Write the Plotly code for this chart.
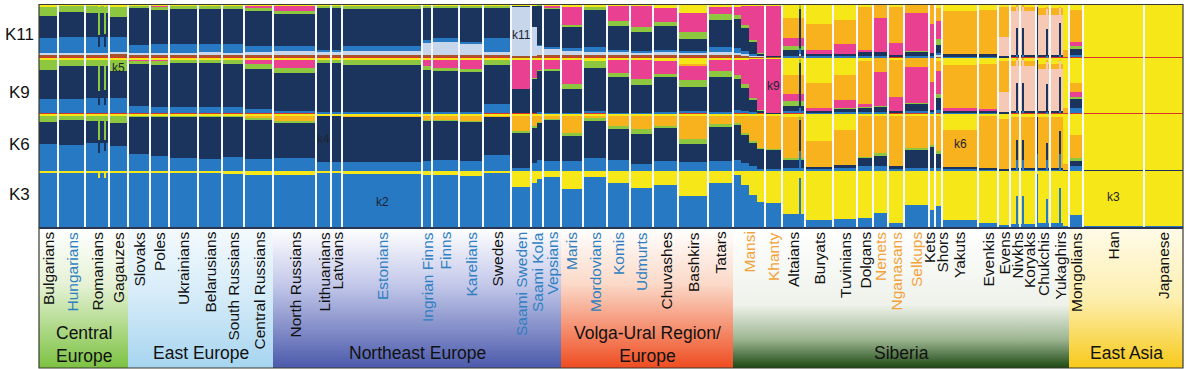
import plotly.graph_objects as go

W, H = 1190, 369
X0, X1 = 39, 1183          # left / right pixel edge of the bar panel
ROW_EDGES = [5, 58, 114, 171, 227]   # pixel rows: K11, K9, K6, K3

# ---------------- data ----------------
block_pop = ["Bulgarians", "Hungarians", "Romanians", "Romanians", "Romanians", "Romanians", "Romanians",
             "Gagauzes", "Slovaks", "Poles", "Ukrainians", "Belarusians", "South Russians", "Central Russians",
             "North Russians", "Lithuanians", "Latvians", "Estonians", "Ingrian Finns", "Finns", "Karelians",
             "Swedes", "Saami Sweden", "Saami Kola", "Saami Kola", "Vepsians", "Maris", "Mordovians", "Komis",
             "Udmurts", "Chuvashes", "Bashkirs", "Tatars", "Mansi", "Mansi", "Mansi", "Mansi", "Khanty",
             "Altaians", "Altaians", "Altaians", "Buryats", "Tuvinians", "Dolgans", "Nenets", "Nganasans",
             "Selkups", "Kets", "Shors", "Yakuts", "Evenkis", "Evens",
             "Nivkhs", "Nivkhs", "Nivkhs",
             "Koryaks", "Koryaks", "Koryaks",
             "Chukchis", "Chukchis", "Chukchis", "Chukchis",
             "Yukaghirs", "Yukaghirs", "Yukaghirs", "Yukaghirs",
             "Mongolians", "Han", "Japanese"]
block_n = [19, 27, 13, 2, 4, 2, 3,
           19, 22, 19, 29, 24, 22, 29,
           43, 15, 11, 80, 10, 27, 24,
           28, 20, 6, 6, 18, 22, 24, 23,
           23, 25, 30, 25, 8, 8, 8, 8, 17,
           17, 2, 4, 28, 24, 16, 15, 16,
           25, 6, 7, 36, 20, 12,
           6, 2, 2,
           2, 2, 12,
           2, 8, 2, 2,
           9, 2, 2, 6,
           14, 61, 39]

# K3 components (bottom -> top)
K3_comps = ["blue", "yellow"]
K3_values = [
    [.97, .03], [.97, .03], [.97, .03], [.87, .13], [.97, .03], [.88, .12], [.97, .03],
    [.97, .03], [.97, .03], [.97, .03], [.96, .04], [.96, .04], [.95, .05], [.93, .07],
    [.93, .07], [.97, .03], [.97, .03], [.95, .05], [.92, .08], [.92, .08], [.91, .09],
    [.98, .02], [.72, .28], [.78, .22], [.86, .14], [.90, .10], [.67, .33], [.90, .10], [.78, .22],
    [.70, .30], [.75, .25], [.55, .45], [.78, .22], [.92, .08], [.75, .25], [.58, .42], [.45, .55], [.42, .58],
    [.24, .76], [.88, .12], [.24, .76], [.12, .88], [.15, .85], [.16, .84], [.25, .75], [.08, .92],
    [.40, .60], [.30, .70], [.38, .62], [.13, .87], [.08, .92], [.04, .96],
    [.05, .95], [.55, .45], [.05, .95],
    [.05, .95], [.55, .45], [.05, .95],
    [.95, .05], [.07, .93], [.50, .50], [.07, .93],
    [.07, .93], [.70, .30], [.07, .93], [.02, .98],
    [.21, .79], [.01, .99], [.01, .99]]

# K6 components (bottom -> top)
K6_comps = ["blue", "navy", "green", "orange", "yellow"]
K6_values = [
    [.48, .38, .11, 0, .03], [.46, .44, .07, 0, .03], [.50, .38, .09, 0, .03], [.32, .22, .42, 0, .04],
    [.50, .38, .09, 0, .03], [.35, .20, .41, 0, .04], [.50, .38, .09, 0, .03],
    [.44, .40, .13, 0, .03], [.30, .65, .02, 0, .03], [.26, .70, .01, 0, .03], [.22, .73, .02, 0, .03],
    [.21, .75, .01, 0, .03], [.24, .71, .02, 0, .03], [.21, .70, .02, .04, .03],
    [.22, .63, .02, .10, .03], [.15, .82, 0, 0, .03], [.15, .82, 0, 0, .03], [.16, .79, 0, .02, .03],
    [.17, .72, .01, .07, .03], [.19, .70, .01, .07, .03], [.17, .70, .01, .09, .03],
    [.28, .67, .01, .01, .03], [.05, .63, .02, .27, .03], [.14, .63, .02, .18, .03], [.20, .65, .01, .11, .03],
    [.18, .72, .01, .06, .03], [.17, .45, .05, .30, .03], [.23, .64, .06, .04, .03], [.19, .54, .06, .18, .03],
    [.13, .52, .08, .24, .03], [.18, .58, .03, .18, .03], [.15, .33, .08, .40, .04], [.18, .60, .04, .15, .03],
    [.20, .60, .04, .13, .03], [.14, .50, .03, .30, .03], [.08, .42, .02, .45, .03], [.04, .35, .01, .57, .03],
    [.03, .35, .01, .58, .03],
    [.05, .14, .04, .72, .05], [.35, .55, .05, .03, .02], [.05, .14, .04, .72, .05], [.03, .04, 0, .45, .48],
    [.05, .05, 0, .62, .28], [.08, .15, .01, .74, .02], [.08, .20, .03, .67, .02], [.03, .05, 0, .88, .04],
    [.06, .32, .03, .57, .02], [.05, .38, .02, .53, .02], [.05, .25, .05, .63, .02], [.03, .04, 0, .65, .28],
    [.02, .04, 0, .90, .04], [.01, .03, 0, .88, .08],
    [.02, .03, 0, .90, .05], [.20, .35, 0, .40, .05], [.02, .03, 0, .90, .05],
    [.02, .03, 0, .90, .05], [.20, .35, 0, .40, .05], [.02, .03, 0, .90, .05],
    [.30, .65, 0, .05, 0], [.02, .04, 0, .89, .05], [.20, .30, 0, .45, .05], [.02, .04, 0, .89, .05],
    [.02, .04, 0, .89, .05], [.30, .40, 0, .25, .05], [.02, .04, 0, .89, .05], [.01, .01, 0, .10, .88],
    [.09, .09, .05, .40, .37], [0, .01, 0, 0, .99], [0, .01, 0, 0, .99]]

# K9 components (bottom -> top)
K9_comps = ["red", "blue", "navy", "green", "pink", "peach", "orange", "yellow"]
K9_values = [
    [.01, .26, .50, .18, 0, 0, 0, .03], [.01, .25, .59, .12, 0, 0, 0, .03], [.01, .27, .57, .12, 0, 0, 0, .03],
    [.01, .15, .25, .56, 0, 0, 0, .03], [.01, .27, .57, .12, 0, 0, 0, .03], [.01, .15, .27, .54, 0, 0, 0, .03],
    [.01, .27, .57, .12, 0, 0, 0, .03],
    [.01, .28, .48, .20, 0, 0, 0, .03], [.01, .13, .76, .05, .02, 0, 0, .03], [.01, .12, .75, .08, .01, 0, 0, .03],
    [.01, .12, .78, .06, 0, 0, 0, .03], [.01, .11, .79, .06, 0, 0, 0, .03], [.01, .12, .76, .08, 0, 0, 0, .03],
    [.01, .08, .72, .08, .08, 0, 0, .03],
    [.01, .05, .68, .08, .15, 0, 0, .03], [.01, .02, .88, .06, 0, 0, 0, .03], [.01, .02, .88, .06, 0, 0, 0, .03],
    [.01, .02, .84, .10, 0, 0, 0, .03], [.01, .02, .76, .06, .12, 0, 0, .03], [.01, .02, .74, .06, .14, 0, 0, .03],
    [.01, .02, .72, .06, .16, 0, 0, .03],
    [.01, .16, .70, .10, 0, 0, 0, .03], [.01, 0, .44, 0, .52, 0, 0, .03], [.01, 0, .62, .02, .32, 0, 0, .03],
    [.01, .02, .74, .02, .18, 0, 0, .03], [.01, .01, .74, .04, .17, 0, 0, .03], [.01, .01, .42, .10, .43, 0, 0, .03],
    [.01, .04, .78, .12, 0, 0, 0, .05], [.01, .01, .64, .08, .23, 0, 0, .03],
    [.01, .01, .50, .10, .35, 0, 0, .03], [.01, .02, .63, .06, .22, 0, 0, .06], [.01, .04, .43, .12, .27, 0, .03, .10],
    [.01, .03, .62, .10, .20, 0, 0, .04],
    [.01, .06, .55, .08, .27, 0, 0, .03], [.01, .04, .42, .06, .45, 0, 0, .02], [.01, .02, .22, .04, .70, 0, 0, .01],
    [.01, 0, .05, .02, .91, 0, 0, .01], [.01, 0, .01, 0, .97, 0, 0, .01],
    [.01, .04, .09, .09, .12, 0, .35, .30], [.01, .10, .80, .06, 0, 0, .02, .01], [.01, .04, .09, .09, .12, 0, .35, .30],
    [.01, .02, .03, 0, .05, 0, .44, .45], [.01, .02, .06, .01, .15, 0, .45, .30], [.01, .02, .08, .01, .05, 0, .78, .05],
    [.01, .03, .10, .01, .60, 0, .25, 0], [.01, 0, .05, 0, .25, 0, .67, .02],
    [.01, .05, .12, .02, .64, 0, .16, 0], [.01, .02, .04, 0, .50, 0, .43, 0], [.01, .07, .20, .08, .40, 0, .19, .05],
    [.01, .01, .05, 0, .03, 0, .78, .12], [.01, .01, .05, 0, .02, 0, .81, .10], [.01, 0, .03, 0, 0, .35, .56, .05],
    [.01, 0, .04, 0, 0, .80, .10, .05], [.01, .05, .50, 0, 0, .40, .04, 0], [.01, 0, .04, 0, 0, .80, .10, .05],
    [.01, 0, .04, 0, 0, .80, .10, .05], [.01, .05, .50, 0, 0, .40, .04, 0], [.01, 0, .04, 0, 0, .80, .10, .05],
    [.01, .05, .90, 0, 0, .04, 0, 0], [.01, 0, .04, 0, 0, .75, .10, .10], [.01, .03, .50, 0, 0, .40, .03, .03],
    [.01, 0, .04, 0, 0, .75, .10, .10],
    [.01, 0, .04, 0, 0, .75, .10, .10], [.01, .05, .60, 0, 0, .30, .02, .02], [.01, 0, .04, 0, 0, .75, .10, .10],
    [.01, 0, 0, 0, 0, 0, .09, .90],
    [.01, .10, .15, .05, .08, 0, .16, .45], [.01, 0, 0, 0, 0, 0, 0, .99], [.01, 0, 0, 0, 0, 0, 0, .99]]

# K11 components (bottom -> top)
K11_comps = ["red", "brown", "pale", "blue", "navy", "green", "pink", "peach", "orange", "yellow"]
K11_values = [
    [.01, .05, .04, .28, .41, .18, 0, 0, 0, .03], [.01, .05, .04, .30, .47, .12, 0, 0, 0, .01],
    [.01, .05, .04, .30, .44, .15, 0, 0, 0, .01], [.01, .05, .03, .12, .22, .55, 0, 0, 0, .02],
    [.01, .05, .04, .30, .44, .15, 0, 0, 0, .01], [.01, .05, .03, .12, .24, .53, 0, 0, 0, .02],
    [.01, .05, .04, .30, .44, .15, 0, 0, 0, .01],
    [.01, .06, .04, .29, .38, .20, 0, 0, 0, .02], [.01, .05, .04, .15, .69, .05, 0, 0, 0, .01],
    [.01, .05, .03, .17, .65, .06, .02, 0, 0, .01], [.01, .05, .04, .16, .67, .06, 0, 0, 0, .01],
    [.01, .05, .05, .15, .67, .06, 0, 0, 0, .01], [.01, .05, .04, .16, .67, .06, 0, 0, 0, .01],
    [.01, .05, .05, .12, .66, .05, .05, 0, 0, .01],
    [.01, .05, .07, .10, .60, .06, .10, 0, 0, .01], [.01, .05, .05, .04, .80, .04, 0, 0, 0, .01],
    [.01, .05, .05, .05, .79, .04, 0, 0, 0, .01], [.01, .05, .08, .08, .71, .06, 0, 0, 0, .01],
    [.01, .05, .22, .06, .61, .04, 0, 0, 0, .01], [.01, .05, .25, .06, .59, .03, 0, 0, 0, .01],
    [.01, .05, .20, .04, .65, .04, 0, 0, 0, .01],
    [.01, .05, .06, .25, .57, .05, 0, 0, 0, .01], [.01, .02, .95, 0, .01, 0, 0, 0, 0, .01],
    [.01, .03, .55, 0, .40, 0, 0, 0, 0, .01], [.01, .04, .18, .02, .74, .01, 0, 0, 0, 0],
    [.01, .05, .12, .03, .71, .04, .03, 0, 0, .01], [.01, .04, .08, .05, .40, .05, .35, 0, 0, .02],
    [.01, .05, .05, .10, .70, .07, 0, 0, 0, .02], [.01, .04, .08, .03, .45, .08, .30, 0, 0, .01],
    [.01, .04, .06, .03, .35, .10, .40, 0, 0, .01], [.01, .05, .05, .05, .45, .06, .27, 0, 0, .06],
    [.01, .05, .03, .05, .22, .14, .35, 0, 0, .15], [.01, .05, .05, .10, .50, .12, .14, 0, 0, .03],
    [.01, .04, .04, .10, .55, .08, .16, 0, 0, .02], [.01, .03, .03, .07, .42, .06, .37, 0, 0, .01],
    [.01, .02, .02, .03, .22, .04, .65, 0, 0, .01], [.01, .01, .01, 0, .05, .02, .89, 0, 0, .01],
    [.01, .01, 0, 0, .01, 0, .96, 0, 0, .01],
    [.01, 0, 0, .03, .12, .06, .15, 0, .38, .25], [.01, .03, .04, .10, .75, .06, 0, 0, .01, 0],
    [.01, 0, 0, .03, .12, .06, .15, 0, .38, .25], [.01, 0, 0, .02, .05, 0, .07, 0, .50, .35],
    [.01, 0, 0, .02, .05, 0, .18, 0, .45, .29], [.01, 0, 0, .02, .10, 0, .02, 0, .83, .02],
    [.01, 0, 0, .02, .08, 0, .64, 0, .25, 0], [.01, 0, 0, 0, .05, 0, .22, 0, .70, .02],
    [.01, 0, 0, .03, .08, .02, .70, 0, .16, 0], [.01, 0, 0, .02, .06, 0, .55, 0, .36, 0],
    [.01, .02, .02, .05, .15, .10, .35, 0, .25, .05], [.01, 0, 0, .01, .06, 0, 0, 0, .80, .12],
    [.01, 0, 0, .01, .06, 0, 0, 0, .82, .10], [.01, 0, 0, 0, .03, 0, 0, .35, .58, .03],
    [.01, 0, 0, 0, .05, 0, 0, .82, .08, .04], [.01, 0, 0, .05, .50, 0, 0, .40, .04, 0],
    [.01, 0, 0, 0, .05, 0, 0, .82, .08, .04],
    [.01, 0, 0, 0, .05, 0, 0, .82, .08, .04], [.01, 0, 0, .05, .50, 0, 0, .40, .04, 0],
    [.01, 0, 0, 0, .05, 0, 0, .82, .08, .04],
    [.01, 0, 0, .05, .90, 0, 0, .04, 0, 0], [.01, 0, 0, 0, .05, 0, 0, .75, .14, .05],
    [.01, 0, 0, .03, .50, 0, 0, .40, .03, .03], [.01, 0, 0, 0, .05, 0, 0, .75, .14, .05],
    [.01, 0, 0, 0, .05, 0, 0, .75, .14, .05], [.01, 0, 0, .05, .60, 0, 0, .30, .02, .02],
    [.01, 0, 0, 0, .05, 0, 0, .75, .14, .05], [.01, 0, 0, 0, 0, 0, 0, 0, .14, .85],
    [.01, 0, 0, .04, .12, .05, .08, 0, .60, .10], [.01, 0, 0, 0, 0, 0, 0, 0, 0, .99],
    [.01, 0, 0, 0, 0, 0, 0, 0, 0, .99]]

uralic_blue = ["Hungarians", "Estonians", "Ingrian Finns", "Finns", "Karelians", "Saami Sweden",
               "Saami Kola", "Vepsians", "Maris", "Mordovians", "Komis", "Udmurts"]
siberian_orange = ["Mansi", "Khanty", "Nenets", "Nganasans", "Selkups"]

regions = [("Central<br>Europe", "Bulgarians", "Gagauzes"),
           ("East Europe", "Slovaks", "Central Russians"),
           ("Northeast Europe", "North Russians", "Vepsians"),
           ("Volga-Ural Region/<br>Europe", "Maris", "Tatars"),
           ("Siberia", "Mansi", "Yukaghirs"),
           ("East Asia", "Mongolians", "Japanese")]

component_tags = [("k5", "Gagauzes", 68), ("k11", "Saami Sweden", 35), ("k9", "Khanty", 86),
                  ("k4", "Lithuanians", 139), ("k6", "Yakuts", 144), ("k2", "Estonians", 202),
                  ("k3", "Han", 197)]

# ---------------- styles ----------------
FONT = "Liberation Sans Narrow, Arial Narrow, sans-serif"
COL = {"blue": "#2779c4", "navy": "#1b345e", "green": "#8dc63f", "pink": "#e94091",
       "peach": "#f6c8b6", "orange": "#f7b21e", "yellow": "#f6e719", "pale": "#c8d6ec",
       "brown": "#a85428", "red": "#d9342b"}
BAND_SCALES = [
    [[0, "#ffffff"], [0.4, "#e6f2d6"], [1, "#7cc242"]],
    [[0, "#f4fafd"], [0.5, "#d4ebf8"], [1, "#a6d4ef"]],
    [[0, "#ffffff"], [0.4, "#c4c9ea"], [1, "#4b5aab"]],
    [[0, "#ffffff"], [0.4, "#fbd9c8"], [1, "#ef4c20"]],
    [[0, "#ffffff"], [0.55, "#eef2ea"], [0.8, "#9bb48f"], [1, "#1b4712"]],
    [[0, "#fffbe8"], [0.5, "#fdefb0"], [1, "#f7c91a"]],
]
K_LABEL_Y = [35, 93, 144, 194]
LABEL_NUDGE = {"Kets": -2.5, "Shors": 3.5, "Nivkhs": 2, "Koryaks": 1}

def px(x):
    return x / W

def py(y):
    return 1 - y / H

# ---------------- geometry from data ----------------
total = sum(block_n)
starts, centers = [], []
acc = 0
for n in block_n:
    starts.append(acc)
    centers.append(acc + n / 2)
    acc += n

pop_order, pop_span = [], {}
for p, s, n in zip(block_pop, starts, block_n):
    if p not in pop_span:
        pop_order.append(p)
        pop_span[p] = [s, s + n]
    else:
        pop_span[p][1] = s + n

fig = go.Figure()

rows = [("K11", K11_comps, K11_values, "y"), ("K9", K9_comps, K9_values, "y2"),
        ("K6", K6_comps, K6_values, "y3"), ("K3", K3_comps, K3_values, "y4")]
for name, comps, table, yax in rows:
    for j, c in enumerate(comps):
        vals = [row[j] / sum(row) for row in table]
        fig.add_trace(go.Bar(x=centers, y=vals, width=block_n, xaxis="x", yaxis=yax,
                             marker=dict(color=COL[c], line=dict(width=0)),
                             hoverinfo="skip", showlegend=False))

# region gradient bands (overlay axis: x in data units, y in pixels)
for (title, a, b), cs in zip(regions, BAND_SCALES):
    s, e = pop_span[a][0], pop_span[b][1]
    fig.add_trace(go.Scatter(x=[s, e, e, s, s], y=[228, 228, 368, 368, 228], xaxis="x5", yaxis="y5",
                             mode="lines", line=dict(width=0, color="rgba(0,0,0,0)"), fill="toself",
                             fillgradient=dict(type="vertical", colorscale=cs, start=228, stop=368),
                             hoverinfo="skip", showlegend=False))

shapes = []
for p in pop_order[1:]:
    x = pop_span[p][0]
    shapes.append(dict(type="line", xref="x", yref="paper", x0=x, x1=x, y0=py(ROW_EDGES[-1]), y1=py(ROW_EDGES[0]),
                       line=dict(color="#f4f7fb", width=2)))
shapes.append(dict(type="line", xref="paper", yref="paper", x0=px(X0), x1=px(X1), y0=py(228), y1=py(228),
                   line=dict(color="#2a3550", width=2)))
shapes.append(dict(type="rect", xref="paper", yref="paper", x0=px(X0), x1=px(X1), y0=py(368), y1=py(4.5),
                   line=dict(color="#3a3a30", width=1.2), fillcolor="rgba(0,0,0,0)"))

ann = []
for p in pop_order:
    s, e = pop_span[p]
    color = "#2f7fc1" if p in uralic_blue else ("#f2a23a" if p in siberian_orange else "#111111")
    ann.append(dict(x=(s + e) / 2 + LABEL_NUDGE.get(p, 0), y=py(230), xref="x", yref="paper", text=p,
                    textangle=-90, xanchor="center", yanchor="top", showarrow=False,
                    font=dict(family=FONT, size=15.5, color=color)))
for title, a, b in regions:
    s, e = pop_span[a][0], pop_span[b][1]
    two = "<br>" in title
    ann.append(dict(x=(s + e) / 2, y=py(344 if two else 353), xref="x", yref="paper", text=title,
                    xanchor="center", yanchor="middle", showarrow=False,
                    font=dict(family=FONT, size=17.5, color="#111111")))
for (name, _, _, _), yy in zip(rows, K_LABEL_Y):
    ann.append(dict(x=px(19), y=py(yy), xref="paper", yref="paper", text=name,
                    xanchor="center", yanchor="middle", showarrow=False,
                    font=dict(family=FONT, size=17, color="#111111")))
for t, p, yy in component_tags:
    s, e = pop_span[p]
    ann.append(dict(x=(s + e) / 2, y=py(yy), xref="x", yref="paper", text=t, showarrow=False,
                    xanchor="center", yanchor="middle",
                    font=dict(family=FONT, size=12, color="#1e2430")))

hidden = dict(visible=False, fixedrange=True)
fig.update_layout(
    width=W, height=H, margin=dict(l=0, r=0, t=0, b=0),
    paper_bgcolor="white", plot_bgcolor="rgba(0,0,0,0)",
    barmode="stack", bargap=0, showlegend=False,
    xaxis=dict(domain=[px(X0), px(X1)], range=[0, total], anchor="y4", **hidden),
    yaxis=dict(domain=[py(ROW_EDGES[1]), py(ROW_EDGES[0])], range=[0, 1], anchor="x", **hidden),
    yaxis2=dict(domain=[py(ROW_EDGES[2]), py(ROW_EDGES[1])], range=[0, 1], anchor="x", **hidden),
    yaxis3=dict(domain=[py(ROW_EDGES[3]), py(ROW_EDGES[2])], range=[0, 1], anchor="x", **hidden),
    yaxis4=dict(domain=[py(ROW_EDGES[4]), py(ROW_EDGES[3])], range=[0, 1], anchor="x", **hidden),
    xaxis5=dict(domain=[px(X0), px(X1)], range=[0, total], anchor="y5", **hidden),
    yaxis5=dict(domain=[0, 1], range=[H, 0], anchor="x5", **hidden),
    shapes=shapes, annotations=ann,
)

# the page body's default 8px margin would shift the figure; remove it, and hide the mode bar
fig.write_html("out.html", config={"displayModeBar": False},
               post_script="document.body.style.margin='0px';")
